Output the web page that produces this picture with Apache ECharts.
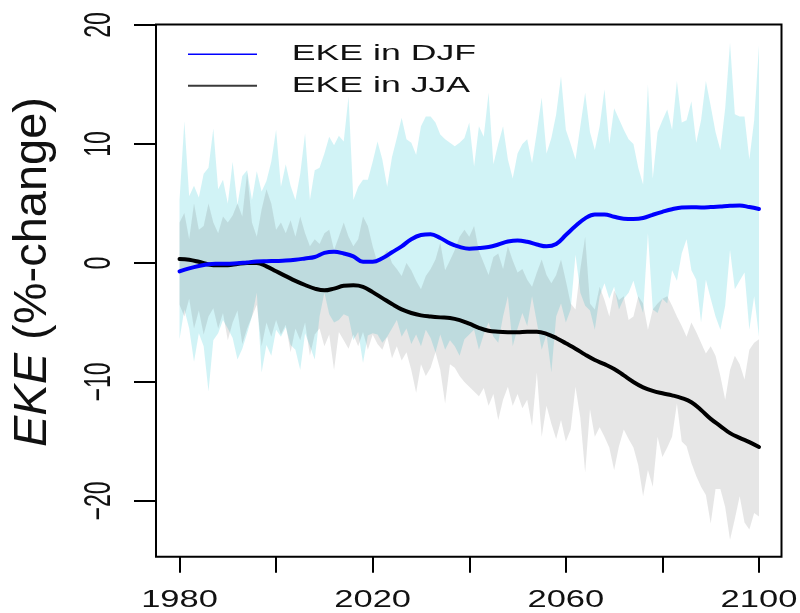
<!DOCTYPE html>
<html>
<head>
<meta charset="utf-8">
<title>EKE change</title>
<script src="https://cdn.jsdelivr.net/npm/echarts@6/dist/echarts.min.js"></script>
<style>
  html, body { margin: 0; padding: 0; background: #fff; }
  #chart { width: 800px; height: 613px; }
</style>
</head>
<body>
<div id="chart"></div>
<script>
// Annual range of the ensemble (DJF and JJA), 1980-2100, in % change
const years = [];
for (let y = 1980; y <= 2100; y++) years.push(y);

const djfMax = [
  5.3, 11.9, 5.6, 6.5, 5.5, 7.5, 8.0, 11.3, 6.2, 7.0,
  5.0, 8.5, 4.9, 7.3, 7.8, 5.3, 7.7, 6.0, 6.9, 8.5,
  11.2, 6.4, 8.3, 6.5, 5.3, 7.5, 10.9, 5.3, 7.8, 8.0,
  9.2, 10.6, 9.9, 10.7, 10.2, 14.0, 5.3, 6.4, 7.0, 7.0,
  8.5, 10.2, 8.7, 6.4, 8.9, 10.5, 12.2, 10.4, 10.1, 9.1,
  11.5, 12.3, 12.3, 11.8, 10.8, 10.4, 10.1, 9.8, 10.1, 10.5,
  11.8, 8.1, 11.5, 10.6, 14.3, 8.3, 10.0, 11.5, 8.7, 7.1,
  9.2, 10.0, 10.4, 8.4, 11.0, 13.9, 9.2, 10.5, 12.5, 15.7,
  11.2, 10.0, 8.7, 11.5, 14.3, 11.0, 9.5, 11.5, 14.6, 10.0,
  13.0, 12.1, 11.2, 10.4, 10.0, 8.0, 6.6, 15.0, 7.1, 11.0,
  12.0, 12.9, 11.2, 15.3, 11.8, 12.0, 13.6, 10.1, 12.0, 15.3,
  13.2, 11.0, 9.5, 13.0, 18.5, 12.5, 12.3, 12.3, 8.7, 12.0,
  18.3
];
const djfMin = [
  -6.4, -3.9, -5.5, -8.3, -5.9, -7.0, -10.8, -6.5, -5.9, -4.8,
  -5.5, -6.3, -8.1, -7.2, -5.9, -4.5, -2.5, -9.2, -6.9, -7.8,
  -5.6, -6.2, -5.4, -6.9, -7.3, -9.0, -5.9, -7.0, -8.1, -4.5,
  -2.5, -4.3, -5.0, -4.8, -4.3, -4.5, -6.5, -5.8, -8.4, -6.1,
  -5.9, -6.0, -6.7, -6.2, -5.5, -4.8, -6.2, -5.5, -6.8, -6.0,
  -7.0, -5.6, -6.3, -7.5, -6.0, -7.3, -6.5, -7.0, -7.8, -6.4,
  -6.0, -5.6, -7.3, -6.0, -5.0, -6.2, -6.7, -4.5, -2.8, -7.0,
  -5.5, -4.2, -5.3, -2.8, -5.0, -7.3, -6.0, -9.2, -4.5, -3.4,
  -5.0, -3.9, 0.7, -2.5, -3.6, -4.0, -5.6, -2.8, -1.7, -3.0,
  -2.0, -3.9, -3.0, -2.5, -1.5, -3.0, -4.2, 2.5, -3.9, -4.2,
  -3.0, -3.4, -0.6, -1.5, 0.8, 2.0, -0.6, -1.4, -5.0, -1.4,
  -3.0, -4.5, -5.6, -3.6, 1.1, -2.2, -1.5, -0.8, -5.6, -2.8,
  -6.2
];
const jjaMax = [
  3.4, 4.2, 2.0, 5.0, 2.8, 3.1, 5.0, 3.4, 2.5, 3.9,
  3.4, 4.0, 5.0, 3.9, 7.6, 3.4, 2.2, 4.5, 6.2, 5.0,
  2.8, 3.4, 2.5, 3.6, 2.2, 3.9, 2.5, 1.4, 2.0, 1.6,
  2.5, 2.8, 1.1, 2.2, 3.4, 2.2, 1.4, 2.0, 3.9, 3.1,
  1.4, 0.0, 0.5, 1.1, 0.0, -0.5, -1.1, 0.0, -0.6, -1.5,
  -2.2, -1.1, -0.5, 0.3, 1.7, -0.6, 0.2, 1.1, 2.2, 2.8,
  2.2, 3.1, 1.0, 0.0, -1.0, 0.5, 0.8, -0.5, 1.4, 0.2,
  -0.8, -0.5, -1.4, -2.0, -0.8, 0.3, -1.0, -1.7, -1.0, 0.3,
  -1.5, -3.4, -3.9, -0.5, 2.2, -3.4, -3.9, -2.0, -3.1, -4.5,
  -2.3, -3.1, -2.8, -4.8, -4.5, -2.8, -3.4, -5.6, -3.9, -3.4,
  -3.0, -2.8, -3.6, -4.5, -5.3, -6.2, -5.0, -5.8, -6.7, -7.6,
  -7.0, -7.8, -9.5, -11.5, -9.0, -7.8, -8.5, -9.8, -7.3, -6.7,
  -6.4
];
const jjaMin = [
  -3.5, -4.5, -3.0, -5.5, -4.0, -6.0, -4.5, -3.8, -5.5, -4.2,
  -6.5, -5.0, -4.0, -6.8, -5.5, -4.5, -3.5, -7.0, -5.0, -6.2,
  -4.8, -6.0, -5.2, -7.5, -5.5, -6.5, -5.0, -7.8, -6.0, -5.5,
  -7.0, -6.0, -9.0, -5.8, -6.5, -7.2, -6.0, -7.0, -5.8, -7.3,
  -6.0, -6.8, -7.3, -6.2, -8.0, -7.0, -8.2, -7.5, -9.0, -10.9,
  -8.5, -9.5, -8.8, -7.5, -9.0, -11.8, -8.5, -8.8, -9.5, -10.0,
  -10.4, -10.8, -11.2, -10.5, -12.0, -11.0, -13.2, -11.5, -10.4, -12.0,
  -11.0, -12.2, -11.5, -13.7, -9.2, -14.6, -12.0, -13.5, -14.8, -13.2,
  -15.0, -14.0, -10.4, -13.0, -17.6, -12.3, -14.6, -13.8, -14.6, -15.5,
  -17.4, -15.4, -14.0, -14.8, -15.5, -17.0, -19.6, -17.4, -18.8, -14.6,
  -16.3, -15.5, -14.6, -11.8, -15.0, -15.4, -16.8, -17.9, -18.8, -19.5,
  -21.9, -19.0, -19.0, -20.5, -23.25, -21.5, -19.6, -21.8, -22.4, -21.0,
  -21.3
];

// Smoothed ensemble means, every second year
const meanYears = [];
for (let y = 1980; y <= 2100; y += 2) meanYears.push(y);

const djfMean = [
  -0.7, -0.45, -0.25, -0.1, -0.07, -0.06, -0.03, 0.05, 0.12, 0.15,
  0.17, 0.2, 0.27, 0.38, 0.5, 0.85, 0.95, 0.8, 0.55, 0.1,
  0.1, 0.4, 0.9, 1.4, 2.0, 2.35, 2.42, 2.1, 1.65, 1.35,
  1.2, 1.25, 1.35, 1.55, 1.8, 1.9, 1.78, 1.55, 1.4, 1.6,
  2.35, 3.1, 3.75, 4.08, 4.08, 3.88, 3.72, 3.7, 3.78, 4.05,
  4.3, 4.52, 4.66, 4.68, 4.67, 4.7, 4.75, 4.8, 4.83, 4.7,
  4.54
];
const jjaMean = [
  0.34, 0.28, 0.1, -0.12, -0.2, -0.2, -0.08, 0, 0, -0.28,
  -0.7, -1.1, -1.5, -1.85, -2.15, -2.3, -2.15, -1.92, -1.88, -2.0,
  -2.45, -2.95, -3.45, -3.9, -4.2, -4.4, -4.5, -4.57, -4.62, -4.8,
  -5.1, -5.45, -5.7, -5.78, -5.82, -5.83, -5.78, -5.78, -5.95, -6.3,
  -6.75, -7.2, -7.7, -8.15, -8.5, -8.9, -9.45, -10.0, -10.45, -10.75,
  -10.95, -11.12, -11.35, -11.7, -12.35, -13.1, -13.7, -14.3, -14.7, -15.05,
  -15.46
];

// Axis ticks and labels
const xTickYears = [1980, 2000, 2020, 2040, 2060, 2080, 2100];
const xLabelYears = [1980, 2020, 2060, 2100];
const yTickValues = [-20, -10, 0, 10, 20];
const yTickLabels = ['\u221220', '\u221210', '0', '10', '20'];

const seriesNames = ['EKE in DJF', 'EKE in JJA'];
const yTitle = '{i|EKE} (%-change)';

const FONT = '"Liberation Sans", Arial, Helvetica, sans-serif';
const CYAN_FILL = 'rgba(0, 190, 205, 0.18)';
const GREY_FILL = 'rgba(90, 90, 90, 0.15)';

function bandSeries(name, upper, lower, fill, z) {
  return {
    name: name,
    type: 'custom',
    silent: true,
    z: z,
    data: [[years[0], upper[0]]],
    renderItem: function (params, api) {
      const pts = [];
      for (let i = 0; i < years.length; i++) pts.push(api.coord([years[i], upper[i]]));
      for (let i = years.length - 1; i >= 0; i--) pts.push(api.coord([years[i], lower[i]]));
      return { type: 'polygon', shape: { points: pts }, style: { fill: fill } };
    }
  };
}

const chart = echarts.init(document.getElementById('chart'));

chart.setOption({
  animation: false,
  backgroundColor: '#fff',
  grid: {
    left: 156, top: 24.5, width: 625.5, height: 532.2,
    show: true, borderColor: '#000', borderWidth: 2, backgroundColor: 'transparent'
  },
  xAxis: {
    type: 'value',
    position: 'bottom',
    min: 1975.13, max: 2104.66,
    axisLine: { show: false, onZero: false },
    splitLine: { show: false },
    axisLabel: { show: false },
    axisTick: {
      show: true, customValues: xTickYears, length: 16, inside: false,
      lineStyle: { color: '#000', width: 2 }
    }
  },
  yAxis: {
    type: 'value',
    position: 'left',
    min: -24.68, max: 20.04,
    axisLine: { show: false, onZero: false },
    splitLine: { show: false },
    axisLabel: { show: false },
    axisTick: {
      show: true, customValues: yTickValues, length: 22, inside: false,
      lineStyle: { color: '#000', width: 2 }
    }
  },
  series: [
    bandSeries('DJF range', djfMax, djfMin, CYAN_FILL, 1),
    bandSeries('JJA range', jjaMax, jjaMin, GREY_FILL, 2),
    {
      name: seriesNames[1], type: 'line', z: 3, smooth: 0.4, showSymbol: false, silent: true,
      data: meanYears.map((y, i) => [y, jjaMean[i]]),
      lineStyle: { color: '#000', width: 4, cap: 'round', join: 'round' }
    },
    {
      name: seriesNames[0], type: 'line', z: 4, smooth: 0.4, showSymbol: false, silent: true,
      data: meanYears.map((y, i) => [y, djfMean[i]]),
      lineStyle: { color: '#0000ff', width: 4, cap: 'round', join: 'round' }
    }
  ]
});

// Tick labels, legend and axis title placed from the axis scales
const px = v => chart.convertToPixel({ xAxisIndex: 0 }, v);
const py = v => chart.convertToPixel({ yAxisIndex: 0 }, v);
const elements = [];

xLabelYears.forEach(y => {
  elements.push({
    type: 'text', x: px(y), y: 601, scaleX: 1.5, silent: true,
    style: { text: String(y), font: '23px ' + FONT, fill: '#111', align: 'center', verticalAlign: 'middle' }
  });
});

yTickValues.forEach((v, i) => {
  elements.push({
    type: 'text', x: 99.5, y: py(v), rotation: Math.PI / 2, scaleY: 1.6, silent: true,
    style: { text: yTickLabels[i], font: '23px ' + FONT, fill: '#111', align: 'center', verticalAlign: 'middle' }
  });
});

elements.push({
  type: 'text', x: 33, y: 272, rotation: Math.PI / 2, silent: true,
  style: {
    text: yTitle, font: '47px ' + FONT, fill: '#111', align: 'center', verticalAlign: 'middle',
    rich: { i: { font: 'italic 47px ' + FONT, fill: '#111' } }
  }
});

// Legend
const legendRows = [
  { name: seriesNames[0], color: '#0000ff', width: 1.6, y: 54.3 },
  { name: seriesNames[1], color: '#3a3a3a', width: 2, y: 85.7 }
];
legendRows.forEach(r => {
  elements.push({
    type: 'line', silent: true,
    shape: { x1: 188, y1: r.y, x2: 257, y2: r.y },
    style: { stroke: r.color, lineWidth: r.width }
  });
  elements.push({
    type: 'text', x: 291.7, y: r.y, scaleX: 1.6, silent: true,
    style: { text: r.name, font: '22.3px ' + FONT, fill: '#111', align: 'left', verticalAlign: 'middle' }
  });
});

chart.setOption({ graphic: elements });
</script>
</body>
</html>
